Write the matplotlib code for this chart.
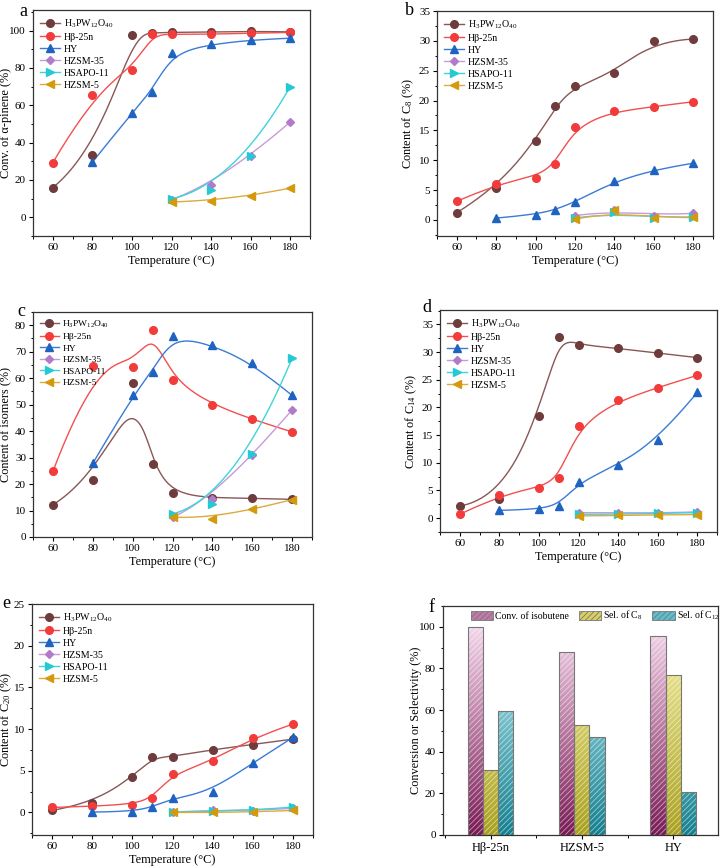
import numpy as np
import matplotlib
matplotlib.use("Agg")
import matplotlib.pyplot as plt
from matplotlib.ticker import MultipleLocator, AutoMinorLocator
from matplotlib.colors import LinearSegmentedColormap
from matplotlib.patches import Patch

plt.rcParams['font.family'] = ['Liberation Serif', 'DejaVu Serif']
plt.rcParams['mathtext.fontset'] = 'custom'
plt.rcParams['mathtext.rm'] = 'Liberation Serif'
plt.rcParams['mathtext.it'] = 'Liberation Serif:italic'
plt.rcParams['hatch.linewidth'] = 0.6

# temperatures (degC)
temp_all = [60, 80, 100, 110, 120, 140, 160, 180]
temp_hy = [80, 100, 110, 120, 140, 160, 180]
temp_hi = [120, 140, 160, 180]

catalysts = ['H$_3$PW$_{12}$O$_{40}$', 'Hβ-25n', 'HY', 'HZSM-35', 'HSAPO-11', 'HZSM-5']

# a: conversion of alpha-pinene
conv_hpw = [15.9, 33.1, 97.5, 98.7, 99.1, 99.1, 99.6, 99.3]
conv_hb = [29.2, 65.3, 78.7, 98.0, 98.0, 98.0, 98.6, 99.0]
conv_hy = [29.5, 56.0, 66.9, 87.8, 92.7, 95.0, 95.9]
conv_z35 = [9.5, 17.2, 32.9, 51.0]
conv_sapo = [9.8, 14.7, 32.9, 70.0]
conv_z5 = [8.2, 8.9, 11.3, 15.7]

# b: content of C8
c8_hpw = [1.2, 5.3, 13.2, 19.0, 22.4, 24.6, 30.0, 30.3]
c8_hb = [3.1, 6.0, 7.1, 9.4, 15.6, 18.3, 18.95, 19.8]
c8_hy = [0.3, 0.9, 1.7, 3.0, 6.5, 8.4, 9.5]
c8_z35 = [0.7, 1.7, 0.7, 1.1]
c8_sapo = [0.3, 1.3, 0.3, 0.5]
c8_z5 = [0.1, 1.6, 0.3, 0.4]

# c: content of isomers
iso_hpw = [12.2, 21.5, 58.0, 27.5, 16.5, 14.6, 14.7, 14.2]
iso_hb = [24.8, 64.5, 64.4, 78.2, 59.4, 49.8, 44.4, 39.7]
iso_hy = [27.8, 53.5, 62.3, 76.1, 72.6, 65.8, 53.5]
iso_z35 = [7.4, 14.3, 30.8, 48.0]
iso_sapo = [8.7, 12.6, 31.4, 67.5]
iso_z5 = [7.5, 6.8, 10.4, 14.1]

# d: content of C14
c14_hpw = [2.2, 3.4, 18.5, 32.8, 31.3, 30.7, 29.8, 29.0]
c14_hb = [0.7, 4.1, 5.5, 7.2, 16.6, 21.3, 23.6, 25.8]
c14_hy = [1.4, 1.6, 2.2, 6.5, 9.6, 14.1, 22.7]
c14_z35 = [1.0, 1.0, 0.85, 1.15]
c14_sapo = [0.7, 0.7, 0.85, 1.0]
c14_z5 = [0.4, 0.5, 0.6, 0.65]

# e: content of C20
c20_hpw = [0.25, 1.1, 4.2, 6.6, 6.7, 7.55, 8.15, 8.8]
c20_hb = [0.6, 0.75, 0.95, 1.75, 4.65, 6.15, 8.95, 10.6]
c20_hy = [0.05, 0.1, 0.65, 1.7, 2.5, 5.95, 9.0]
c20_z35 = [0.05, 0.3, 0.2, 0.5]
c20_sapo = [0.05, 0.15, 0.25, 0.65]
c20_z5 = [0.0, 0.0, 0.05, 0.25]

# f: isobutene test
bar_cats = ['Hβ-25n', 'HZSM-5', 'HY']
conv_isobutene = [100.0, 87.7, 95.8]
sel_c8 = [31.4, 53.0, 77.0]
sel_c12 = [59.4, 47.2, 20.6]
bar_labels = ['Conv. of isobutene', 'Sel. of C$_8$', 'Sel. of C$_{12}$']

colors = ['#6E3C3C', '#F23B3B', '#1F63C2', '#B27BC9', '#26C9D3', '#D49A0E']
line_colors = ['#8A5656', '#F25050', '#3A7BD5', '#C89AD8', '#3FD3DB', '#DDAA40']
markers = ['o', 'o', '^', 'D', '>', '<']
msizes = [5.5, 5.5, 5.5, 4.5, 5.5, 5.5]

W, H = 721, 868


def px_axes(fig, left, top, right, bottom):
    ax = fig.add_axes([left / W, 1 - bottom / H, (right - left) / W, (bottom - top) / H])
    ax._wpx = right - left
    return ax


def bspline(x, y, num=300):
    # clamped uniform B-spline using the data points as control points
    pts = np.column_stack([x, y]).astype(float)
    n = len(pts)
    k = min(3, n - 1)
    inner = np.linspace(0, 1, n - k + 1)[1:-1]
    knots = np.concatenate([np.zeros(k + 1), inner, np.ones(k + 1)])
    t = np.linspace(0, 1, num)
    N = np.zeros((num, len(knots) - 1))
    for i in range(len(knots) - 1):
        N[:, i] = (knots[i] <= t) & (t < knots[i + 1])
    N[-1, :] = 0
    N[-1, n - 1] = 1
    for d in range(1, k + 1):
        Nn = np.zeros((num, len(knots) - 1 - d))
        for i in range(len(knots) - 1 - d):
            a = 0
            b = 0
            d1 = knots[i + d] - knots[i]
            if d1 > 0:
                a = (t - knots[i]) / d1 * N[:, i]
            d2 = knots[i + d + 1] - knots[i + 1]
            if d2 > 0:
                b = (knots[i + d + 1] - t) / d2 * N[:, i + 1]
            Nn[:, i] = a + b
        N = Nn
    curve = N @ pts
    return curve[:, 0], curve[:, 1]


def style_axes(ax, ylabel, lab_off=21):
    for s in ax.spines.values():
        s.set_linewidth(0.9)
        s.set_color('#333333')
    ax.tick_params(which='both', direction='out', top=False, right=False, labelsize=8, pad=2)
    ax.tick_params(which='major', length=3, width=0.8)
    ax.tick_params(which='minor', length=1.8, width=0.7)
    ax.set_ylabel(ylabel, fontsize=8.8)
    ax.yaxis.set_label_coords(-lab_off / ax._wpx, 0.5)


def line_panel(ax, series, ylabel, ylim, ystep, legsize=7.2, lab_off=21):
    xs = [temp_all, temp_all, temp_hy, temp_hi, temp_hi, temp_hi]
    for i, (x, y) in enumerate(zip(xs, series)):
        cx, cy = bspline(x, y)
        ax.plot(cx, cy, color=line_colors[i], lw=1.0, zorder=2)
        ax.plot(x, y, ls='none', marker=markers[i], ms=msizes[i], color=colors[i], zorder=3)
    handles = [plt.Line2D([], [], color=line_colors[i], lw=1.0, marker=markers[i],
                          ms=msizes[i], mfc=colors[i], mec=colors[i]) for i in range(6)]
    ax.legend(handles, catalysts, loc='upper left', frameon=False, fontsize=legsize,
              handlelength=2.0, labelspacing=0.3, borderaxespad=0.3, handletextpad=0.4)
    ax.set_xlim(50, 190)
    ax.set_ylim(*ylim)
    ax.xaxis.set_major_locator(MultipleLocator(20))
    ax.xaxis.set_minor_locator(AutoMinorLocator(2))
    ax.yaxis.set_major_locator(MultipleLocator(ystep))
    ax.yaxis.set_minor_locator(AutoMinorLocator(2))
    ax.set_xlabel('Temperature (°C)', fontsize=8.8, labelpad=2)
    style_axes(ax, ylabel, lab_off)


fig = plt.figure(figsize=(W / 100, H / 100), dpi=100)

ax_a = px_axes(fig, 33, 10, 310, 236)
line_panel(ax_a, [conv_hpw, conv_hb, conv_hy, conv_z35, conv_sapo, conv_z5],
           'Conv. of α-pinene (%)', (-10, 111), 20)

ax_b = px_axes(fig, 437, 11, 713, 236)
line_panel(ax_b, [c8_hpw, c8_hb, c8_hy, c8_z35, c8_sapo, c8_z5],
           'Content of C$_8$ (%)', (-2.7, 35), 5)

ax_c = px_axes(fig, 33, 312, 312, 537)
line_panel(ax_c, [iso_hpw, iso_hb, iso_hy, iso_z35, iso_sapo, iso_z5],
           'Content of isomers (%)', (0, 85), 10, legsize=6.8)

ax_d = px_axes(fig, 440, 310, 717, 532)
line_panel(ax_d, [c14_hpw, c14_hb, c14_hy, c14_z35, c14_sapo, c14_z5],
           'Content of C$_{14}$ (%)', (-2.5, 37.6), 5)

ax_e = px_axes(fig, 32, 604, 313, 835)
line_panel(ax_e, [c20_hpw, c20_hb, c20_hy, c20_z35, c20_sapo, c20_z5],
           'Content of C$_{20}$ (%)', (-2.7, 25), 5, lab_off=18)

# f: grouped bars with gradient + hatch
ax_f = px_axes(fig, 443, 606, 718, 835)
grads = [('#7A1A55', '#F4D6EA'), ('#A9A11C', '#F7F2A8'), ('#13808F', '#C2F0F6')]
mids = ['#C07AA8', '#D9D060', '#5CC0CC']
bw = 1 / 6
xg = np.arange(len(bar_cats))
for j, vals in enumerate([conv_isobutene, sel_c8, sel_c12]):
    xpos = xg + (j - 1) * bw
    bars = ax_f.bar(xpos, vals, width=bw, facecolor='none', edgecolor='none', zorder=1)
    cmap = LinearSegmentedColormap.from_list('g%d' % j, list(grads[j]))
    for p in bars:
        x0 = p.get_x()
        grad = np.linspace(0, 1, 256).reshape(-1, 1)
        im = ax_f.imshow(grad, extent=[x0, x0 + p.get_width(), 0, 100], origin='lower',
                         aspect='auto', cmap=cmap, zorder=1)
        im.set_clip_path(p)
    ax_f.bar(xpos, vals, width=bw, fill=False, hatch='//////', edgecolor=(1, 1, 1, 0.55),
             linewidth=0, zorder=2)
    ax_f.bar(xpos, vals, width=bw, fill=False, edgecolor='#777777', linewidth=0.8, zorder=3)
ax_f.set_xlim(-0.52, 2.49)
ax_f.set_ylim(0, 110)
ax_f.set_xticks(xg)
ax_f.set_xticklabels(bar_cats)
ax_f.xaxis.set_minor_locator(MultipleLocator(0.5))
ax_f.yaxis.set_major_locator(MultipleLocator(20))
ax_f.yaxis.set_minor_locator(AutoMinorLocator(2))
style_axes(ax_f, 'Conversion or Selectivity (%)')
ax_f.tick_params(axis='x', labelsize=9)
leg_handles = [Patch(facecolor=mids[j], edgecolor='#777777', hatch='//////', lw=0.6)
               for j in range(3)]
ax_f.legend(leg_handles, bar_labels, loc='upper left', ncol=3, frameon=False, fontsize=7,
            handlelength=2.3, handleheight=1.0, columnspacing=1.0, handletextpad=0.2,
            borderaxespad=0.0, borderpad=0.3, bbox_to_anchor=(25 / 275, 1.0))

# panel letters
for lab, px, py in [('a', 19, 16), ('b', 405, 15), ('c', 17, 316), ('d', 422, 312),
                    ('e', 2, 608), ('f', 428, 612)]:
    fig.text(px / W, 1 - py / H, lab, fontsize=13, ha='left', va='baseline')

fig.savefig('out.png', dpi=100)
